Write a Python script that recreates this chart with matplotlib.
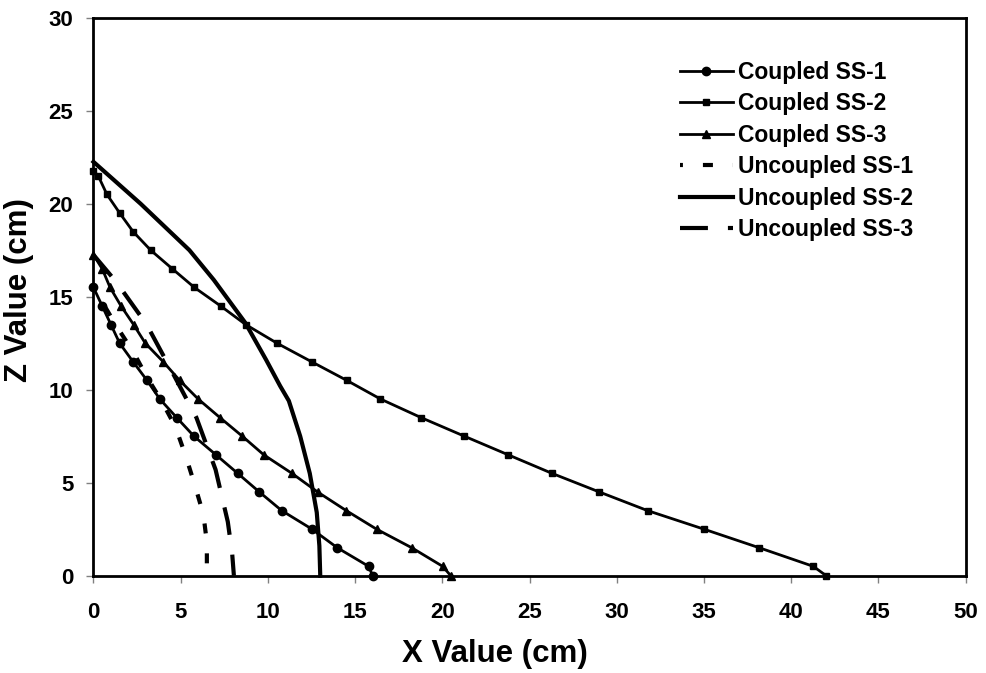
import matplotlib.pyplot as plt

plt.rcParams['font.family'] = ['Liberation Sans', 'DejaVu Sans']
plt.rcParams['font.weight'] = 'bold'

# Coupled series (x in cm, z in cm)
x_c1 = [0, 0.5, 1.0, 1.5, 2.27, 3.07, 3.8, 4.77, 5.76, 7.02, 8.27, 9.51, 10.79, 12.53, 13.98, 15.78, 16.0]
z_c1 = [15.5, 14.5, 13.5, 12.5, 11.5, 10.5, 9.5, 8.5, 7.5, 6.5, 5.5, 4.5, 3.5, 2.5, 1.5, 0.5, 0]

x_c2 = [0, 0.27, 0.77, 1.5, 2.27, 3.28, 4.52, 5.78, 7.29, 8.73, 10.52, 12.51, 14.52, 16.45,
        18.78, 21.26, 23.77, 26.29, 29.0, 31.76, 35.0, 38.17, 41.27, 42.0]
z_c2 = [21.75, 21.5, 20.5, 19.5, 18.5, 17.5, 16.5, 15.5, 14.5, 13.5, 12.5, 11.5, 10.5, 9.5,
        8.5, 7.5, 6.5, 5.5, 4.5, 3.5, 2.5, 1.5, 0.5, 0]

x_c3 = [0, 0.5, 0.95, 1.58, 2.3, 2.97, 4.0, 4.94, 6.0, 7.25, 8.53, 9.76, 11.38, 12.85, 14.49,
        16.23, 18.25, 20.02, 20.48]
z_c3 = [17.25, 16.5, 15.5, 14.5, 13.5, 12.5, 11.5, 10.5, 9.5, 8.5, 7.5, 6.5, 5.5, 4.5, 3.5,
        2.5, 1.5, 0.5, 0]

# Uncoupled series
x_u1 = [0, 1.4, 2.3, 3.05, 3.9, 4.7, 5.3, 5.8, 6.3, 6.5, 6.5]
z_u1 = [15.5, 13.3, 12.0, 10.7, 9.4, 8.0, 6.4, 4.9, 3.3, 1.8, 0]

x_u2 = [0, 2.7, 5.5, 6.9, 8.7, 9.9, 10.7, 11.2, 11.85, 12.4, 12.8, 12.95, 13.0]
z_u2 = [22.25, 20.0, 17.5, 15.9, 13.6, 11.6, 10.2, 9.4, 7.5, 5.5, 3.4, 1.6, 0]

x_u3 = [0, 1.3, 3.05, 4.4, 5.9, 7.0, 7.7, 7.95, 8.05]
z_u3 = [17.25, 15.8, 13.5, 11.15, 8.5, 5.7, 2.9, 1.2, 0]

fig = plt.figure(figsize=(9.86, 6.73), dpi=100)
ax = fig.add_axes([0.0948, 0.1446, 0.8846, 0.8291])

ax.plot(x_c1, z_c1, 'k-', marker='o', ms=6, lw=2, label='Coupled SS-1', clip_on=False)
ax.plot(x_c2, z_c2, 'k-', marker='s', ms=5, lw=2, label='Coupled SS-2', clip_on=False)
ax.plot(x_c3, z_c3, 'k-', marker='^', ms=5.5, lw=2, label='Coupled SS-3', clip_on=False)
ax.plot(x_u1, z_u1, color='k', lw=3, ls=(1.7, (2.4, 4.8)), label='Uncoupled SS-1', clip_on=False)
ax.plot(x_u2, z_u2, color='k', lw=3, label='Uncoupled SS-2', clip_on=False)
ax.plot(x_u3, z_u3, color='k', lw=3, ls=(0, (6.7, 4.8)), label='Uncoupled SS-3', clip_on=False)

ax.set_xlim(0, 50)
ax.set_ylim(0, 30)
ax.set_xticks(range(0, 51, 5))
ax.set_yticks(range(0, 31, 5))
ax.tick_params(direction='out', length=5, width=1, color='#808080', labelsize=16)
ax.tick_params(axis='x', pad=14)
ax.tick_params(axis='y', pad=9.5)
for lab in ax.get_xticklabels() + ax.get_yticklabels():
    lab.set_fontweight('bold')
for sp in ax.spines.values():
    sp.set_linewidth(2)

ax.set_xlabel('X Value (cm)', fontsize=22.5, fontweight='bold')
ax.set_ylabel('Z Value (cm)', fontsize=22.5, fontweight='bold')
ax.xaxis.set_label_coords(0.46, -0.113)
ax.yaxis.set_label_coords(-0.068, 0.512)

ax.legend(loc='upper left', bbox_to_anchor=(680 / 986, 1 - 61 / 673), bbox_transform=fig.transFigure,
          frameon=False, handlelength=2.3, handletextpad=0.25, labelspacing=0.37,
          borderpad=0, borderaxespad=0, prop={'weight': 'bold', 'size': 16.5})

fig.savefig('out.png', dpi=100)
